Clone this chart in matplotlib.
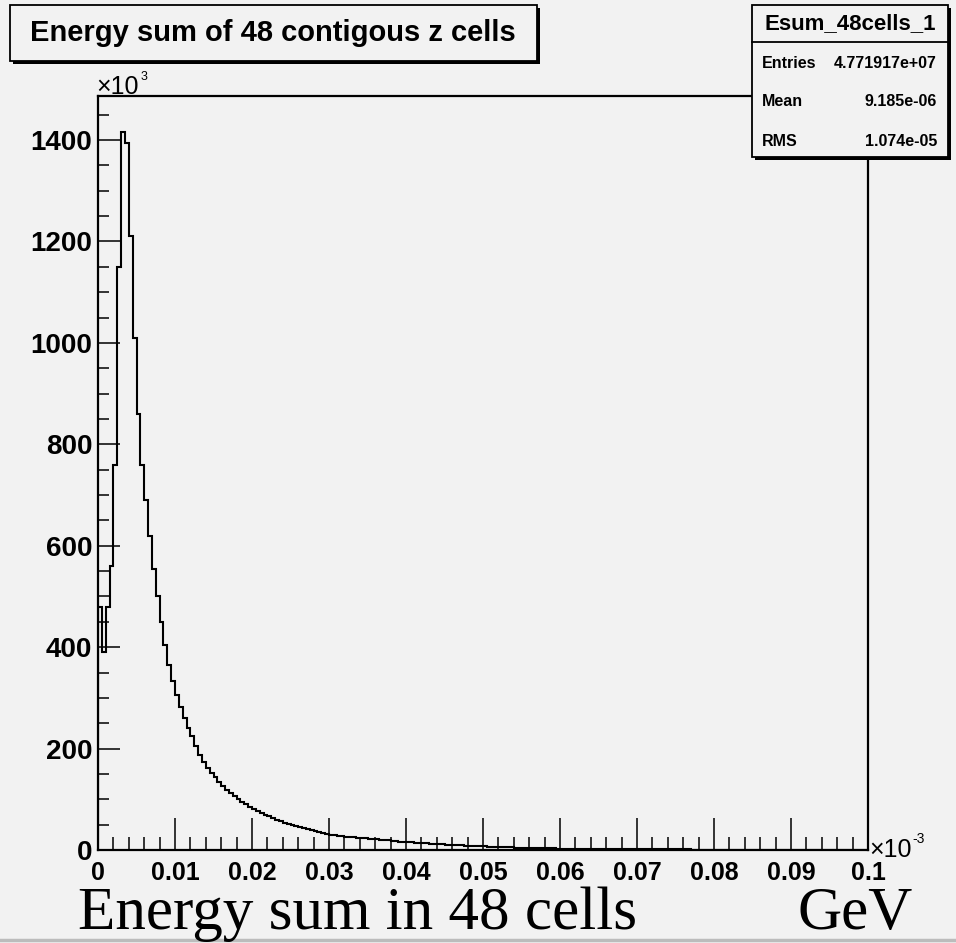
import numpy as np
import matplotlib
matplotlib.use("Agg")
import matplotlib.pyplot as plt
from matplotlib.patches import Rectangle
from matplotlib.ticker import MultipleLocator

# ---- data (counts in units of 10^3, energy in units of 10^-3 GeV) ----
x_min = 0.0
x_max = 0.1
n_bins = 200
counts = [
    480, 390, 480, 560, 760, 1150, 1416, 1395, 1210, 1010,
    860, 760, 690, 620, 555, 500, 450, 405, 365, 333,
    305, 282, 260, 241, 224, 205, 188, 174, 162, 152,
    143, 134, 126, 118, 112, 106, 100, 95, 90, 85,
    81, 77, 73, 70, 67, 63, 60, 57, 54, 52,
    50, 47, 45, 43, 41, 39, 37, 35, 33, 31,
    30, 29, 28, 27, 26, 26, 25, 24, 24, 23,
    22, 21, 21, 20, 19, 19, 18, 17, 16, 16,
    15, 15, 14, 14, 13, 13, 12, 12, 11, 11,
    10, 10, 9, 9, 9, 8, 8, 8, 7, 7,
    7, 6, 6, 6, 5.5, 5.5, 5, 5, 4.8, 4.5,
    4.3, 4.1, 3.9, 3.7, 3.6, 3.4, 3.3, 3.1, 3.0, 2.9,
    2.8, 2.7, 2.6, 2.5, 2.4, 2.3, 2.2, 2.1, 2.0, 1.9,
    1.85, 1.8, 1.75, 1.7, 1.65, 1.6, 1.55, 1.5, 1.45, 1.4,
    1.35, 1.3, 1.28, 1.25, 1.22, 1.2, 1.17, 1.15, 1.12, 1.1,
    1.08, 1.05, 1.03, 1.0, 0.98, 0.96, 0.94, 0.92, 0.9, 0.88,
    0.86, 0.84, 0.82, 0.8, 0.78, 0.77, 0.76, 0.74, 0.72, 0.7,
    0.69, 0.68, 0.66, 0.65, 0.64, 0.63, 0.62, 0.6, 0.59, 0.58,
    0.57, 0.56, 0.55, 0.54, 0.53, 0.52, 0.51, 0.5, 0.49, 0.48,
    0.47, 0.46, 0.45, 0.44, 0.44, 0.43, 0.42, 0.41, 0.4, 0.4,
]

x_ticks = [0, 0.01, 0.02, 0.03, 0.04, 0.05, 0.06, 0.07, 0.08, 0.09, 0.1]
x_tick_labels = ["0", "0.01", "0.02", "0.03", "0.04", "0.05",
                 "0.06", "0.07", "0.08", "0.09", "0.1"]
y_ticks = [0, 200, 400, 600, 800, 1000, 1200, 1400]
y_tick_labels = ["0", "200", "400", "600", "800", "1000", "1200", "1400"]

title = "Energy sum of 48 contigous z cells"
stats_name = "Esum_48cells_1"
stats_labels = ["Entries", "Mean", "RMS"]
stats_values = ["4.771917e+07", "9.185e-06", "1.074e-05"]
x_title = "Energy sum in 48 cells"
x_unit = "GeV"

# ---- figure ----
W, H = 956, 943
bg = "#f2f2f2"
plt.rcParams["font.family"] = ["Liberation Sans", "DejaVu Sans"]
plt.rcParams["font.weight"] = "bold"


def fx(px):
    return px / W


def fy(py):
    return 1 - py / H


fig = plt.figure(figsize=(W / 100, H / 100), dpi=100, facecolor=bg)
ax = fig.add_axes([fx(98), fy(850), 770 / W, 754 / H], facecolor=bg)

edges = np.linspace(x_min, x_max, n_bins + 1)
ax.stairs(counts, edges, color="black", lw=1.5)
ax.set_xlim(x_min, x_max)
ax.set_ylim(0, max(counts) * 1.05)

ax.set_xticks(x_ticks)
ax.set_xticklabels(x_tick_labels)
ax.set_yticks(y_ticks)
ax.set_yticklabels(y_tick_labels)
ax.xaxis.set_minor_locator(MultipleLocator(0.002))
ax.yaxis.set_minor_locator(MultipleLocator(50))

ax.tick_params(axis="x", which="major", direction="in", length=23, width=1.1,
               pad=8, labelsize=18, top=False)
ax.tick_params(axis="x", which="minor", direction="in", length=9.5, width=1.1, top=False)
ax.tick_params(axis="y", which="major", direction="in", length=16, width=1.1,
               pad=4, labelsize=20, right=False)
ax.tick_params(axis="y", which="minor", direction="in", length=8, width=1.1, right=False)
for s in ax.spines.values():
    s.set_linewidth(1.6)


def box(x0, y0, x1, y1, shadow=3):
    fig.add_artist(Rectangle((fx(x0 + shadow), fy(y1 + shadow)), (x1 - x0) / W, (y1 - y0) / H,
                             transform=fig.transFigure, facecolor="black", edgecolor="none"))
    fig.add_artist(Rectangle((fx(x0), fy(y1)), (x1 - x0) / W, (y1 - y0) / H,
                             transform=fig.transFigure, facecolor=bg, edgecolor="black", lw=1.3))


# title box
box(10, 5, 537, 61)
fig.text(fx(273), fy(33), title, ha="center", va="center", fontsize=21, weight="bold")

# stats box
box(752, 5, 948, 157)
fig.add_artist(plt.Line2D([fx(752), fx(948)], [fy(42), fy(42)], transform=fig.transFigure,
                          color="black", lw=1.3))
fig.text(fx(850), fy(24), stats_name, ha="center", va="center", fontsize=16, weight="bold")
for i, (lab, val) in enumerate(zip(stats_labels, stats_values)):
    yy = fy(63 + i * 39)
    fig.text(fx(762), yy, lab, ha="left", va="center", fontsize=11.5, weight="bold")
    fig.text(fx(937), yy, val, ha="right", va="center", fontsize=11.5, weight="bold")

# axis multipliers
fig.text(fx(96), fy(94), "\u00d710", ha="left", va="baseline", fontsize=18, weight="normal")
fig.text(fx(141), fy(80), "3", ha="left", va="baseline", fontsize=9, weight="normal")
fig.text(fx(869), fy(857), "\u00d710", ha="left", va="baseline", fontsize=18, weight="normal")
fig.text(fx(912), fy(843), "-3", ha="left", va="baseline", fontsize=10, weight="normal")

# x axis title
fig.text(fx(78), fy(929), x_title, ha="left", va="baseline", fontsize=44,
         family="Liberation Serif", weight="normal")
fig.text(fx(798), fy(929), x_unit, ha="left", va="baseline", fontsize=44,
         family="Liberation Serif", weight="normal")

# canvas bevel
fig.add_artist(plt.Line2D([0, 1], [fy(940), fy(940)], transform=fig.transFigure,
                          color="#bcbcbc", lw=2.5))

fig.savefig("out.png", dpi=100, facecolor=bg)
